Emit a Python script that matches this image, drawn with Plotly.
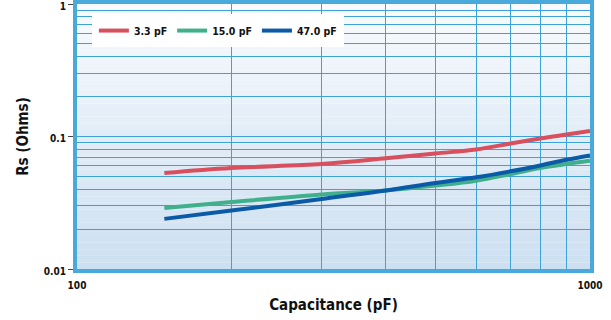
import plotly.graph_objects as go

# # Data
capacitance = [148, 200, 300, 400, 500, 600, 700, 800, 900, 1000]
rs_3p3 = [0.053, 0.0578, 0.0619, 0.0684, 0.0745, 0.0798, 0.0885, 0.0966, 0.1035, 0.110]
rs_15p0 = [0.0289, 0.0320, 0.0365, 0.0391, 0.0426, 0.0464, 0.0520, 0.0578, 0.0620, 0.0656]
rs_47p0 = [0.0239, 0.0276, 0.0338, 0.0391, 0.0446, 0.0492, 0.0546, 0.0605, 0.0668, 0.0720]

series_names = ['3.3 pF', '15.0 pF', '47.0 pF']
series_colors = ['#d8505e', '#3fb08b', '#0a5aa8']

x_minor = [m * 100 for m in range(2, 10)]
y_minor = [m * 0.01 for m in range(2, 10)] + [m * 0.1 for m in range(2, 10)]

font_family = 'DejaVu Sans Condensed, Liberation Sans Narrow, Roboto, sans-serif'
grid_color = '#3da2d8'
border_color = '#48aadb'

fig = go.Figure()

# # Gradient background made of thin bands
n_bands = 40
top_rgb = (248, 250, 253)
bot_rgb = (205, 224, 241)
for i in range(n_bands):
    t = i / (n_bands - 1)
    r = round(top_rgb[0] + (bot_rgb[0] - top_rgb[0]) * t)
    g = round(top_rgb[1] + (bot_rgb[1] - top_rgb[1]) * t)
    b = round(top_rgb[2] + (bot_rgb[2] - top_rgb[2]) * t)
    fig.add_shape(type='rect', xref='x domain', yref='y domain',
                  x0=0, x1=1, y0=1 - (i + 1) / n_bands, y1=1 - i / n_bands,
                  fillcolor=f'rgb({r},{g},{b})', line_width=0, layer='below')

for name, values, color in zip(series_names, [rs_3p3, rs_15p0, rs_47p0], series_colors):
    fig.add_trace(go.Scatter(x=capacitance, y=values, mode='lines', name=name,
                             line=dict(color=color, width=4, shape='spline')))

fig.update_layout(
    width=611, height=320,
    margin=dict(l=77, r=21, t=4, b=51, autoexpand=False),
    paper_bgcolor='white',
    plot_bgcolor='rgba(0,0,0,0)',
    font=dict(family=font_family, size=10, color='#111111', weight='bold'),
    showlegend=True,
    legend=dict(orientation='h', x=0.029, y=0.962, xanchor='left', yanchor='top',
                bgcolor='white', bordercolor='white', borderwidth=2,
                font=dict(size=10.5, weight='bold'),
                itemwidth=30, tracegroupgap=0),
)

fig.update_xaxes(
    type='log', range=[2, 3], automargin=False,
    tickvals=[100, 1000], ticktext=['100', '1000'],
    ticks='', ticklabelstandoff=4,
    tickfont=dict(size=10, weight='bold'),
    showgrid=False, zeroline=False,
    minor=dict(tickvals=x_minor, showgrid=True, gridcolor=grid_color, gridwidth=1, ticks=''),
    showline=True, mirror=True, linewidth=4, linecolor=border_color,
    title=dict(text='Capacitance (pF)', font=dict(size=15, weight='bold'), standoff=10),
)

fig.update_yaxes(
    type='log', range=[-2, 0], automargin=False,
    tickvals=[0.01, 0.1, 1], ticktext=['0.01', '0.1', '1'],
    ticks='outside', ticklen=5, tickcolor='#444444', tickwidth=1,
    ticklabelshift=2,
    tickfont=dict(size=10, weight='bold'),
    showgrid=True, gridcolor=grid_color, gridwidth=1, zeroline=False,
    minor=dict(tickvals=y_minor, showgrid=True, gridcolor=grid_color, gridwidth=1, ticks=''),
    showline=True, mirror=True, linewidth=4, linecolor=border_color,
    title=dict(text='Rs (Ohms)', font=dict(size=15, weight='bold'), standoff=13),
)

fig.write_html("out.html", config={'displayModeBar': False},
               post_script="document.body.style.margin = '0';")
